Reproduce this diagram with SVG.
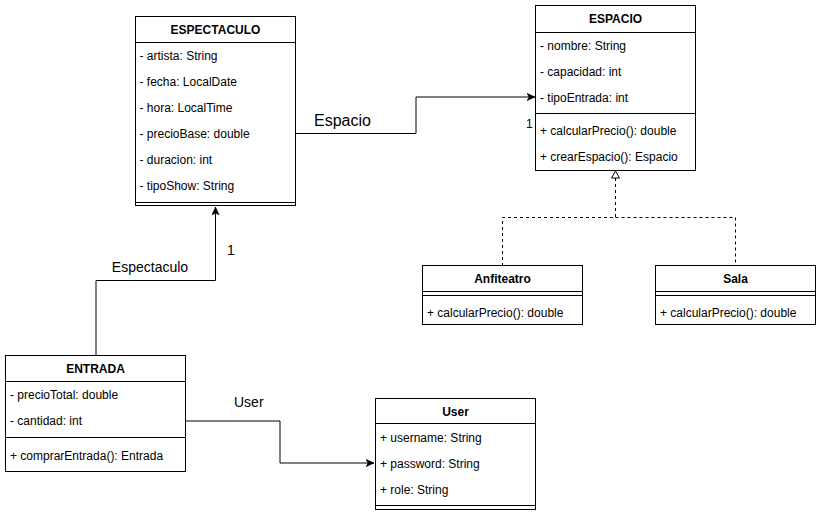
<svg xmlns="http://www.w3.org/2000/svg" width="821" height="516" viewBox="0 0 821 516">
<style>
.box{fill:#fff;stroke:#000;stroke-width:1}
.ln{stroke:#000;stroke-width:1;fill:none}
.t{font-family:"Liberation Sans",Arial,sans-serif;font-size:12px;fill:#000}
.h{font-family:"Liberation Sans",Arial,sans-serif;font-size:12px;font-weight:bold;fill:#000;text-anchor:middle}
.lbl{font-family:"Liberation Sans",Arial,sans-serif;font-size:14px;fill:#000}
.dash{stroke:#000;stroke-width:1;fill:none;stroke-dasharray:3 3}
</style>
<defs>
<marker id="arr" markerUnits="userSpaceOnUse" viewBox="0 0 8 8" refX="8" refY="4" markerWidth="8" markerHeight="8" orient="auto">
<path d="M0,0.3 L8,4 L0,7.7 L2,4 Z" fill="#000" stroke="#000" stroke-width="0.5"/>
</marker>
</defs>
<rect width="821" height="516" fill="#fff"/>

<g id="connectors">
<path class="ln" d="M296,133.5 H416 V97 H535" marker-end="url(#arr)"/>
<path class="ln" d="M96,355 V280.5 H215.5 V207" marker-end="url(#arr)"/>
<path class="ln" d="M185,421 H280 V463 H374" marker-end="url(#arr)"/>
<path class="dash" d="M615.5,178 V217.5 H502.5 V265"/>
<path class="dash" d="M615.5,217.5 H735.5 V265"/>
<polygon points="615.5,171 611.5,178 619.5,178" fill="#fff" stroke="#000" stroke-width="1"/>
<text class="lbl" x="314" y="126" style="font-size:16px">Espacio</text>
<text class="t" x="526" y="128">1</text>
<text class="lbl" x="150" y="272" text-anchor="middle">Espectaculo</text>
<text class="lbl" x="227" y="255">1</text>
<text class="lbl" x="234" y="407">User</text>
</g>

<g id="espectaculo">
<rect class="box" x="135.5" y="16.5" width="160" height="189"/>
<line class="ln" x1="135.5" y1="42.5" x2="295.5" y2="42.5"/>
<line class="ln" x1="135.5" y1="202.5" x2="295.5" y2="202.5"/>
<text class="h" x="215.5" y="33.5">ESPECTACULO</text>
<text class="t" x="139.5" y="60">- artista: String</text>
<text class="t" x="139.5" y="86">- fecha: LocalDate</text>
<text class="t" x="139.5" y="112">- hora: LocalTime</text>
<text class="t" x="139.5" y="138">- precioBase: double</text>
<text class="t" x="139.5" y="164">- duracion: int</text>
<text class="t" x="139.5" y="190">- tipoShow: String</text>
</g>

<g id="espacio">
<rect class="box" x="535.5" y="5.5" width="160" height="165"/>
<line class="ln" x1="535.5" y1="32.5" x2="695.5" y2="32.5"/>
<line class="ln" x1="535.5" y1="113.5" x2="695.5" y2="113.5"/>
<text class="h" x="615.5" y="23">ESPACIO</text>
<text class="t" x="540" y="49.5">- nombre: String</text>
<text class="t" x="540" y="75.5">- capacidad: int</text>
<text class="t" x="540" y="101.5">- tipoEntrada: int</text>
<text class="t" x="540" y="135">+ calcularPrecio(): double</text>
<text class="t" x="540" y="161">+ crearEspacio(): Espacio</text>
</g>

<g id="anfiteatro">
<rect class="box" x="422.5" y="265.5" width="160" height="59"/>
<line class="ln" x1="422.5" y1="291.5" x2="582.5" y2="291.5"/>
<line class="ln" x1="422.5" y1="295.5" x2="582.5" y2="295.5"/>
<text class="h" x="502.5" y="283">Anfiteatro</text>
<text class="t" x="427" y="317">+ calcularPrecio(): double</text>
</g>

<g id="sala">
<rect class="box" x="655.5" y="265.5" width="160" height="59"/>
<line class="ln" x1="655.5" y1="291.5" x2="815.5" y2="291.5"/>
<line class="ln" x1="655.5" y1="295.5" x2="815.5" y2="295.5"/>
<text class="h" x="735.5" y="283">Sala</text>
<text class="t" x="660" y="317">+ calcularPrecio(): double</text>
</g>

<g id="entrada">
<rect class="box" x="5.5" y="355.5" width="180" height="116"/>
<line class="ln" x1="5.5" y1="381.5" x2="185.5" y2="381.5"/>
<line class="ln" x1="5.5" y1="437.5" x2="185.5" y2="437.5"/>
<text class="h" x="95.5" y="373">ENTRADA</text>
<text class="t" x="10" y="399">- precioTotal: double</text>
<text class="t" x="10" y="425">- cantidad: int</text>
<text class="t" x="10" y="459.5">+ comprarEntrada(): Entrada</text>
</g>

<g id="user">
<rect class="box" x="375.5" y="398.5" width="160" height="111"/>
<line class="ln" x1="375.5" y1="423.5" x2="535.5" y2="423.5"/>
<line class="ln" x1="375.5" y1="505.5" x2="535.5" y2="505.5"/>
<text class="h" x="455.5" y="415.5">User</text>
<text class="t" x="380" y="442">+ username: String</text>
<text class="t" x="380" y="468">+ password: String</text>
<text class="t" x="380" y="494">+ role: String</text>
</g>
</svg>
